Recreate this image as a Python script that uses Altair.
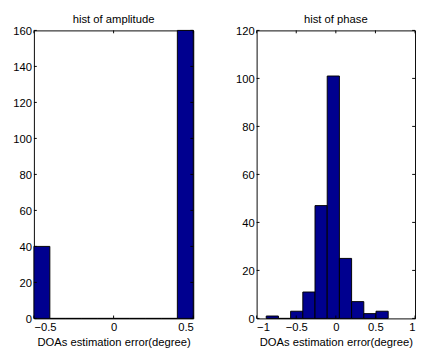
import altair as alt
import pandas as pd

# ---- data ----
amp_lo = [-0.5, -0.4, -0.3, -0.2, -0.1, 0.0, 0.1, 0.2, 0.3, 0.4]
amp_hi = [-0.4, -0.3, -0.2, -0.1, 0.0, 0.1, 0.2, 0.3, 0.4, 0.5]
amp_counts = [40, 0, 0, 0, 0, 0, 0, 0, 0, 160]

phase_lo = [-0.879, -0.725, -0.571, -0.417, -0.263, -0.109, 0.045, 0.199, 0.353, 0.507]
phase_hi = [-0.725, -0.571, -0.417, -0.263, -0.109, 0.045, 0.199, 0.353, 0.507, 0.661]
phase_counts = [1, 0, 3, 11, 47, 101, 25, 7, 2, 3]

amp_xticks = [-0.5, 0, 0.5]
amp_yticks = [0, 20, 40, 60, 80, 100, 120, 140, 160]
phase_xticks = [-1, -0.5, 0, 0.5, 1]
phase_yticks = [0, 20, 40, 60, 80, 100, 120]

titles = ["hist of amplitude", "hist of phase"]
xlabel = "DOAs estimation error(degree)"

FONT = "Liberation Sans"
FS = 11.7
BAR = "#00008F"
TICK = 3
LABEL = "datum.value < 0 ? '\u2212' + abs(datum.value) : '' + datum.value"


def panel(lo, hi, counts, xticks, yticks, xdom, ydom, w, h, title):
    bars_df = pd.DataFrame({"lo": lo, "hi": hi, "count": counts})
    xt = pd.DataFrame({"t": xticks})
    yt = pd.DataFrame({"t": yticks})
    tt = pd.DataFrame({"title": [title]})
    xs = alt.Scale(domain=xdom, nice=False, zero=False)
    ys = alt.Scale(domain=ydom, nice=False)
    xaxis = alt.Axis(values=xticks, labelExpr=LABEL, grid=False, domain=False,
                     ticks=False, labelPadding=3.5, title=xlabel, titlePadding=4,
                     labelOverlap=False)
    yaxis = alt.Axis(values=yticks, labelExpr=LABEL, grid=False, domain=False,
                     ticks=False, labelPadding=2.5, title=None, labelOverlap=False)
    bars = alt.Chart(bars_df).mark_rect(fill=BAR, stroke="black", strokeWidth=1).encode(
        x=alt.X("lo:Q", scale=xs, axis=xaxis),
        x2="hi:Q",
        y=alt.Y("count:Q", scale=ys, axis=yaxis),
        y2=alt.datum(0),
    )
    xt_top = alt.Chart(xt).mark_rule(color="black", strokeWidth=1).encode(
        x=alt.X("t:Q", axis=xaxis), y=alt.value(0), y2=alt.value(TICK))
    xt_bot = alt.Chart(xt).mark_rule(color="black", strokeWidth=1).encode(
        x=alt.X("t:Q", axis=xaxis), y=alt.value(h), y2=alt.value(h - TICK))
    yt_l = alt.Chart(yt).mark_rule(color="black", strokeWidth=1).encode(
        y=alt.Y("t:Q", axis=yaxis), x=alt.value(0), x2=alt.value(TICK))
    yt_r = alt.Chart(yt).mark_rule(color="black", strokeWidth=1).encode(
        y=alt.Y("t:Q", axis=yaxis), x=alt.value(w), x2=alt.value(w - TICK))
    ttl = alt.Chart(tt).mark_text(font=FONT, fontSize=FS, color="black",
                                  align="center", baseline="alphabetic").encode(
        text="title:N", x=alt.value(w / 2), y=alt.value(-8))
    return alt.layer(bars, xt_top, xt_bot, yt_l, yt_r, ttl).properties(
        width=w, height=h)


left = panel(amp_lo, amp_hi, amp_counts, amp_xticks, amp_yticks,
             [-0.5, 0.5], [0, 160], 166, 300, titles[0])
right = panel(phase_lo, phase_hi, phase_counts, phase_xticks, phase_yticks,
              [-1, 1], [0, 120], 165, 300, titles[1])

chart = alt.hconcat(left, right, spacing=42).properties(
    padding={"left": 4, "top": -2, "right": 0, "bottom": 5},
).configure_view(
    stroke="black", strokeWidth=1
).configure_axis(
    labelFont=FONT, labelFontSize=FS, labelColor="black",
    titleFont=FONT, titleFontSize=FS, titleColor="black", titleFontWeight="normal",
)

chart.save("out.html", embed_options={"renderer": "svg", "actions": False})
